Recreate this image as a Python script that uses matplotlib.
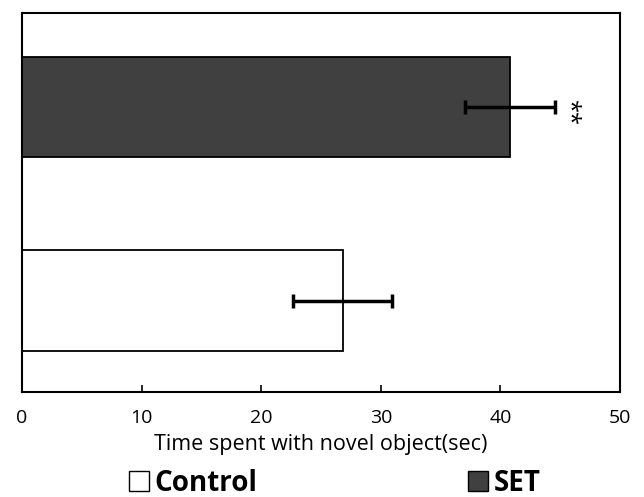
import matplotlib
matplotlib.use("Agg")
import matplotlib.pyplot as plt
from matplotlib.patches import Patch

groups = ["Control", "SET"]
means = [26.8, 40.8]
errors = [4.1, 3.8]
colors = ["white", "#404040"]
xticks = [0, 10, 20, 30, 40, 50]

plt.rcParams['font.family'] = ['Open Sans', 'DejaVu Sans']

fig = plt.figure(figsize=(6.44, 4.97), dpi=100)
ax = fig.add_axes([22/644, 1-392/497, 598/644, 379/497])

ypos = list(range(len(groups)))
ax.barh(ypos, means, height=0.52, color=colors, edgecolor="black", linewidth=1.3)
ax.errorbar(means, ypos, xerr=errors, fmt="none", ecolor="black", elinewidth=2.5,
            capsize=5, capthick=2.5)
ax.text(means[1] + errors[1] + 1.1, ypos[1] - 0.03, "**", rotation=-90, ha="center", va="center",
        fontsize=17)

ax.set_xlim(0, 50)
ax.set_ylim(-0.47, 1.485)
ax.set_xticks(xticks)
ax.set_xticklabels([str(t) for t in xticks], fontsize=14)
ax.set_yticks([])
ax.tick_params(axis="x", direction="in", length=5, width=1.2, pad=12)
for s in ax.spines.values():
    s.set_linewidth(1.5)
ax.set_xlabel("Time spent with novel object(sec)", fontsize=15.5, labelpad=5)

handles = [Patch(facecolor=c, edgecolor="black", label=g) for g, c in zip(groups, colors)]
fig.legend(handles=handles, loc="center", bbox_to_anchor=(0.52, 0.028), ncol=2,
           frameon=False, prop={"weight": "bold", "size": 20}, columnspacing=7.6,
           handlelength=0.72, handleheight=0.72, handletextpad=0.2, borderpad=0)

fig.savefig("out.png", dpi=100)
